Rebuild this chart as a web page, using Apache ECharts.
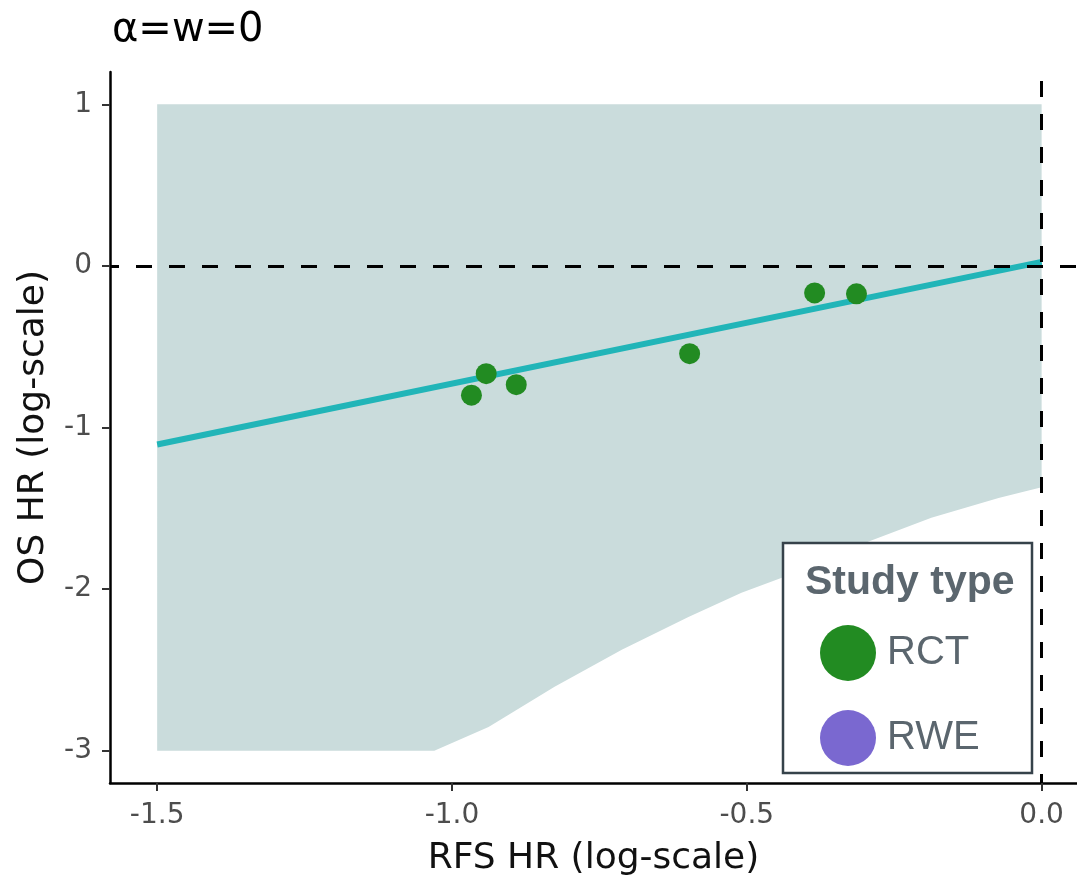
<!DOCTYPE html>
<html><head><meta charset="utf-8">
<script src="https://cdn.jsdelivr.net/npm/echarts@6/dist/echarts.min.js"></script>
<style>html,body{margin:0;padding:0;background:#fff}#c{width:1077px;height:882px}</style>
</head><body><div id="c"></div>
<script>
// ---- data ----
const xTicks = [-1.5, -1.0, -0.5, 0.0];
const yTicks = [-3, -2, -1, 0, 1];
const rctX = [-0.967, -0.942, -0.891, -0.597, -0.385, -0.314];
const rctY = [-0.800, -0.667, -0.735, -0.543, -0.167, -0.173];
const rweX = [];
const rweY = [];
const fitX = [-1.5, 0.0];
const fitY = [-1.105, 0.025];
const ribbonX = [-1.5, -1.03, -0.938, -0.826, -0.712, -0.599, -0.509, -0.436, -0.300, -0.187, -0.073, 0.0];
const ribbonLower = [-3, -3, -2.853, -2.605, -2.376, -2.172, -2.023, -1.924, -1.714, -1.559, -1.436, -1.37];
const ribbonUpper = [1, 1, 1, 1, 1, 1, 1, 1, 1, 1, 1, 1];
const refX = 0, refY = 0;

const zip = (a, b) => a.map((v, i) => [v, b[i]]);
const AX_FONT = "'DejaVu Sans', 'Liberation Sans', sans-serif";
const LG_FONT = "'Liberation Sans', Arial, sans-serif";

const chart = echarts.init(document.getElementById('c'), null, {renderer: 'canvas'});
chart.setOption({
  animation: false,
  backgroundColor: '#fff',
  title: {
    text: 'α=w=0', left: 107, top: 6,
    textStyle: {fontSize: 40, fontWeight: 'normal', color: '#000', fontFamily: AX_FONT}
  },
  grid: {left: 110, right: 0, top: 72, bottom: 99},
  xAxis: {
    type: 'value', min: -1.58, max: 0.06,
    axisLine: {show: true, onZero: false, lineStyle: {color: '#000', width: 2.5}},
    axisTick: {show: true, customValues: xTicks, length: 8, lineStyle: {color: '#333', width: 2}},
    axisLabel: {customValues: xTicks, formatter: v => Number(v).toFixed(1), fontSize: 28,
      color: '#4d4d4d', fontFamily: AX_FONT, margin: 19},
    splitLine: {show: false},
    name: 'RFS HR (log-scale)', nameLocation: 'middle', nameGap: 58,
    nameTextStyle: {fontSize: 36, color: '#111', fontFamily: AX_FONT}
  },
  yAxis: {
    type: 'value', min: -3.2, max: 1.2,
    axisLine: {show: true, onZero: false, lineStyle: {color: '#000', width: 2.5}},
    axisTick: {show: true, customValues: yTicks, length: 8, lineStyle: {color: '#333', width: 2}},
    axisLabel: {customValues: yTicks, formatter: v => String(v), fontSize: 28,
      color: '#4d4d4d', fontFamily: AX_FONT, margin: 18},
    splitLine: {show: false},
    name: 'OS HR (log-scale)', nameLocation: 'middle', nameGap: 58, nameRotate: 90,
    nameTextStyle: {fontSize: 36, color: '#111', fontFamily: AX_FONT}
  },
  legend: {
    data: ['RCT', 'RWE'], orient: 'vertical', left: 815, top: 620, z: 110,
    icon: 'circle', itemWidth: 56, itemHeight: 56, itemGap: 29,
    itemStyle: {opacity: 1},
    textStyle: {fontSize: 40, color: '#5b666e', fontFamily: LG_FONT, padding: [0, 0, 0, 6]},
    selectedMode: false
  },
  graphic: [
    {type: 'rect', z: 100, shape: {x: 783, y: 543, width: 249, height: 230},
      style: {fill: '#fff', stroke: '#36424a', lineWidth: 2.5}},
    {type: 'text', z: 101, x: 805, y: 583,
      style: {text: 'Study type', fontSize: 41, fontWeight: 'bold', fill: '#5b666e',
        fontFamily: LG_FONT, verticalAlign: 'middle'}}
  ],
  series: [
    {
      type: 'custom', name: 'ribbon', z: 1, silent: true,
      data: [[ribbonX[0], ribbonUpper[0]]],
      renderItem: function (params, api) {
        const pts = [];
        for (let i = 0; i < ribbonX.length; i++) pts.push(api.coord([ribbonX[i], ribbonUpper[i]]));
        for (let i = ribbonX.length - 1; i >= 0; i--) pts.push(api.coord([ribbonX[i], ribbonLower[i]]));
        return {type: 'polygon', shape: {points: pts}, style: {fill: '#cadcdc'}};
      }
    },
    {
      type: 'line', name: 'fit', z: 3, silent: true, data: zip(fitX, fitY), showSymbol: false,
      lineStyle: {color: '#21b5b8', width: 6}
    },
    {
      type: 'scatter', name: 'RCT', z: 5, data: zip(rctX, rctY), symbol: 'circle', symbolSize: 21,
      itemStyle: {color: '#228b22', opacity: 1},
      markLine: {
        silent: true, symbol: 'none', label: {show: false},
        lineStyle: {color: '#000', width: 3, type: [16, 17], dashOffset: 7},
        data: [{xAxis: refX}, {yAxis: refY}]
      }
    },
    {
      type: 'scatter', name: 'RWE', z: 5, data: zip(rweX, rweY), symbol: 'circle', symbolSize: 21,
      itemStyle: {color: '#7a68d0', opacity: 1}
    }
  ]
});
</script>
</body></html>
